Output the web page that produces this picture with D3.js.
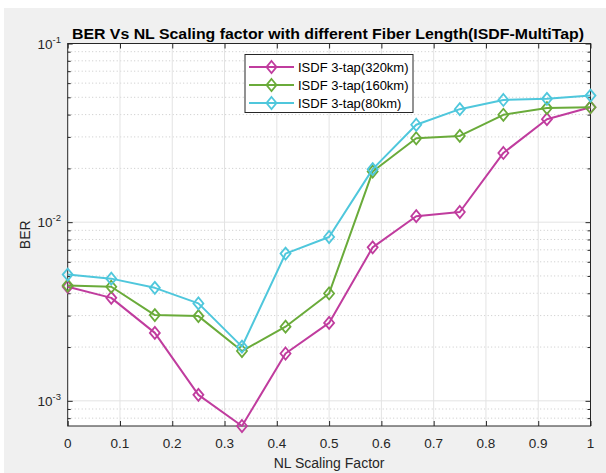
<!DOCTYPE html>
<html>
<head>
<meta charset="utf-8">
<script src="https://cdn.jsdelivr.net/npm/d3@7"></script>
<style>
  html, body { margin: 0; padding: 0; background: #ffffff; }
  svg { display: block; font-family: "Liberation Sans", Arial, sans-serif; }
</style>
</head>
<body>
<svg id="chart" width="606" height="473"></svg>
<script>
// NL scaling factor sweep (13 steps from 0 to 1)
const scalingFactor = [0, 1/12, 2/12, 3/12, 4/12, 5/12, 6/12, 7/12, 8/12, 9/12, 10/12, 11/12, 1];

// BER per fibre length, ISDF 3-tap equaliser
const ber320km = [4.35e-3, 3.77e-3, 2.40e-3, 1.08e-3, 7.23e-4, 1.84e-3, 2.73e-3, 7.23e-3, 1.08e-2, 1.14e-2, 2.44e-2, 3.77e-2, 4.40e-2];
const ber160km = [4.42e-3, 4.35e-3, 3.02e-3, 2.98e-3, 1.90e-3, 2.60e-3, 3.99e-3, 1.92e-2, 2.95e-2, 3.04e-2, 3.99e-2, 4.35e-2, 4.40e-2];
const ber80km  = [5.09e-3, 4.83e-3, 4.29e-3, 3.51e-3, 2.01e-3, 6.67e-3, 8.26e-3, 1.98e-2, 3.51e-2, 4.29e-2, 4.83e-2, 4.90e-2, 5.11e-2];

const seriesNames = ["ISDF 3-tap(320km)", "ISDF 3-tap(160km)", "ISDF 3-tap(80km)"];
const seriesColors = ["#c03c9e", "#6aab3a", "#4fc7dc"];

const xTicks = [0, 0.1, 0.2, 0.3, 0.4, 0.5, 0.6, 0.7, 0.8, 0.9, 1];
const xTickLabels = ["0", "0.1", "0.2", "0.3", "0.4", "0.5", "0.6", "0.7", "0.8", "0.9", "1"];
const yMajorTicks = [1e-3, 1e-2, 1e-1];
const yTickExponents = ["-3", "-2", "-1"];

const titleText = "BER Vs NL Scaling factor with different Fiber Length(ISDF-MultiTap)";
const xLabelText = "NL Scaling Factor";
const yLabelText = "BER";

const allSeries = [ber320km, ber160km, ber80km];

const svg = d3.select("#chart");
const W = 606, H = 473;
const plot = { left: 67.7, right: 590.5, top: 43.5, bottom: 426 };

// figure background
svg.append("rect").attr("x", 0).attr("y", 0).attr("width", W).attr("height", H).attr("fill", "#ffffff");
svg.append("rect").attr("x", 4).attr("y", 8).attr("width", W - 4).attr("height", H - 8).attr("fill", "#f0f0f0");

const x = d3.scaleLinear().domain([0, 1]).range([plot.left, plot.right]);
const yMin = d3.min(allSeries.flat());
const y = d3.scaleLog().domain([yMin, 0.1]).range([plot.bottom, plot.top]);

// axes area
svg.append("rect")
  .attr("x", plot.left).attr("y", plot.top)
  .attr("width", plot.right - plot.left).attr("height", plot.bottom - plot.top)
  .attr("fill", "#ffffff");

// minor log ticks inside the visible range
const yMinorTicks = [];
for (let e = -4; e <= -1; e++) {
  for (let m = 2; m <= 9; m++) {
    const v = m * Math.pow(10, e);
    if (v >= yMin && v <= 0.1) yMinorTicks.push(v);
  }
}

const grid = svg.append("g");
// minor horizontal grid (dotted)
grid.selectAll("line.minor").data(yMinorTicks).join("line")
  .attr("class", "minor")
  .attr("x1", plot.left).attr("x2", plot.right)
  .attr("y1", d => y(d)).attr("y2", d => y(d))
  .attr("stroke", "#c8c8c8").attr("stroke-width", 1)
  .attr("stroke-dasharray", "1,2.5");
// major grid (solid, light)
grid.selectAll("line.mx").data(xTicks.slice(1, -1)).join("line")
  .attr("class", "mx")
  .attr("x1", d => x(d)).attr("x2", d => x(d))
  .attr("y1", plot.top).attr("y2", plot.bottom)
  .attr("stroke", "#e3e3e3").attr("stroke-width", 1);
grid.selectAll("line.my").data(yMajorTicks.filter(d => d > yMin && d < 0.1)).join("line")
  .attr("class", "my")
  .attr("x1", plot.left).attr("x2", plot.right)
  .attr("y1", d => y(d)).attr("y2", d => y(d))
  .attr("stroke", "#e3e3e3").attr("stroke-width", 1);

// axes with inward ticks on all four sides
const axisColor = "#262626";
function styleAxis(g) {
  g.select(".domain").remove();
  g.selectAll(".tick line").attr("stroke", axisColor).attr("stroke-width", 1);
}
const tickLen = 5;
svg.append("g").attr("transform", `translate(0,${plot.bottom})`)
  .call(d3.axisBottom(x).tickValues(xTicks).tickSize(-tickLen).tickFormat(""))
  .call(styleAxis);
svg.append("g").attr("transform", `translate(0,${plot.top})`)
  .call(d3.axisTop(x).tickValues(xTicks).tickSize(-tickLen).tickFormat(""))
  .call(styleAxis);
svg.append("g").attr("transform", `translate(${plot.left},0)`)
  .call(d3.axisLeft(y).tickValues(yMajorTicks).tickSize(-tickLen).tickFormat(""))
  .call(styleAxis);
svg.append("g").attr("transform", `translate(${plot.right},0)`)
  .call(d3.axisRight(y).tickValues(yMajorTicks).tickSize(-tickLen).tickFormat(""))
  .call(styleAxis);
svg.append("g").attr("transform", `translate(${plot.left},0)`)
  .call(d3.axisLeft(y).tickValues(yMinorTicks).tickSize(-3).tickFormat(""))
  .call(styleAxis);
svg.append("g").attr("transform", `translate(${plot.right},0)`)
  .call(d3.axisRight(y).tickValues(yMinorTicks).tickSize(-3).tickFormat(""))
  .call(styleAxis);

// box
svg.append("rect")
  .attr("x", plot.left).attr("y", plot.top)
  .attr("width", plot.right - plot.left).attr("height", plot.bottom - plot.top)
  .attr("fill", "none").attr("stroke", axisColor).attr("stroke-width", 1);

// tick labels
const labelColor = "#262626";
svg.append("g").selectAll("text").data(xTicks).join("text")
  .attr("x", d => x(d)).attr("y", 447.5)
  .attr("text-anchor", "middle")
  .attr("font-size", 13.5).attr("fill", labelColor)
  .text((d, i) => xTickLabels[i]);

const yl = svg.append("g").selectAll("text").data(yMajorTicks).join("text")
  .attr("x", 61).attr("y", d => y(d) + 5)
  .attr("text-anchor", "end")
  .attr("font-size", 13.5).attr("fill", labelColor);
yl.append("tspan").text("10");
yl.append("tspan").attr("dy", -6).attr("font-size", 9.5).text((d, i) => yTickExponents[i]);

// axis titles
svg.append("text")
  .attr("x", (plot.left + plot.right) / 2).attr("y", 468)
  .attr("text-anchor", "middle").attr("font-size", 14).attr("fill", labelColor)
  .text(xLabelText);
svg.append("text")
  .attr("transform", `translate(30,${(plot.top + plot.bottom) / 2}) rotate(-90)`)
  .attr("text-anchor", "middle").attr("font-size", 14).attr("fill", labelColor)
  .text(yLabelText);

// title
svg.append("text")
  .attr("x", 328).attr("y", 39)
  .attr("text-anchor", "middle").attr("font-size", 14.5).attr("font-weight", "bold")
  .attr("fill", "#000000")
  .attr("textLength", 512).attr("lengthAdjust", "spacingAndGlyphs")
  .text(titleText);

// data lines and diamond markers
const line = d3.line().x((d, i) => x(scalingFactor[i])).y(d => y(d));
const diamond = (cx, cy) => `M${cx},${cy - 6}L${cx + 5},${cy}L${cx},${cy + 6}L${cx - 5},${cy}Z`;

allSeries.forEach((vals, s) => {
  const g = svg.append("g");
  g.append("path").datum(vals)
    .attr("d", line)
    .attr("fill", "none").attr("stroke", seriesColors[s]).attr("stroke-width", 2)
    .attr("stroke-linejoin", "round");
  g.selectAll("path.mk").data(vals).join("path")
    .attr("class", "mk")
    .attr("d", (d, i) => diamond(x(scalingFactor[i]), y(d)))
    .attr("fill", "none").attr("stroke", seriesColors[s]).attr("stroke-width", 1.8);
});

// legend
const lg = svg.append("g");
lg.append("rect").attr("x", 245).attr("y", 54.5).attr("width", 168).attr("height", 58)
  .attr("fill", "#ffffff").attr("stroke", "#262626").attr("stroke-width", 1);
const rowY = [67, 85, 103];
seriesNames.forEach((name, s) => {
  lg.append("line").attr("x1", 249).attr("x2", 294).attr("y1", rowY[s]).attr("y2", rowY[s])
    .attr("stroke", seriesColors[s]).attr("stroke-width", 2);
  lg.append("path").attr("d", diamond(271.5, rowY[s]))
    .attr("fill", "none").attr("stroke", seriesColors[s]).attr("stroke-width", 1.8);
  lg.append("text").attr("x", 298).attr("y", rowY[s] + 4.5)
    .attr("font-size", 13).attr("fill", "#000000").text(name);
});
</script>
</body>
</html>
